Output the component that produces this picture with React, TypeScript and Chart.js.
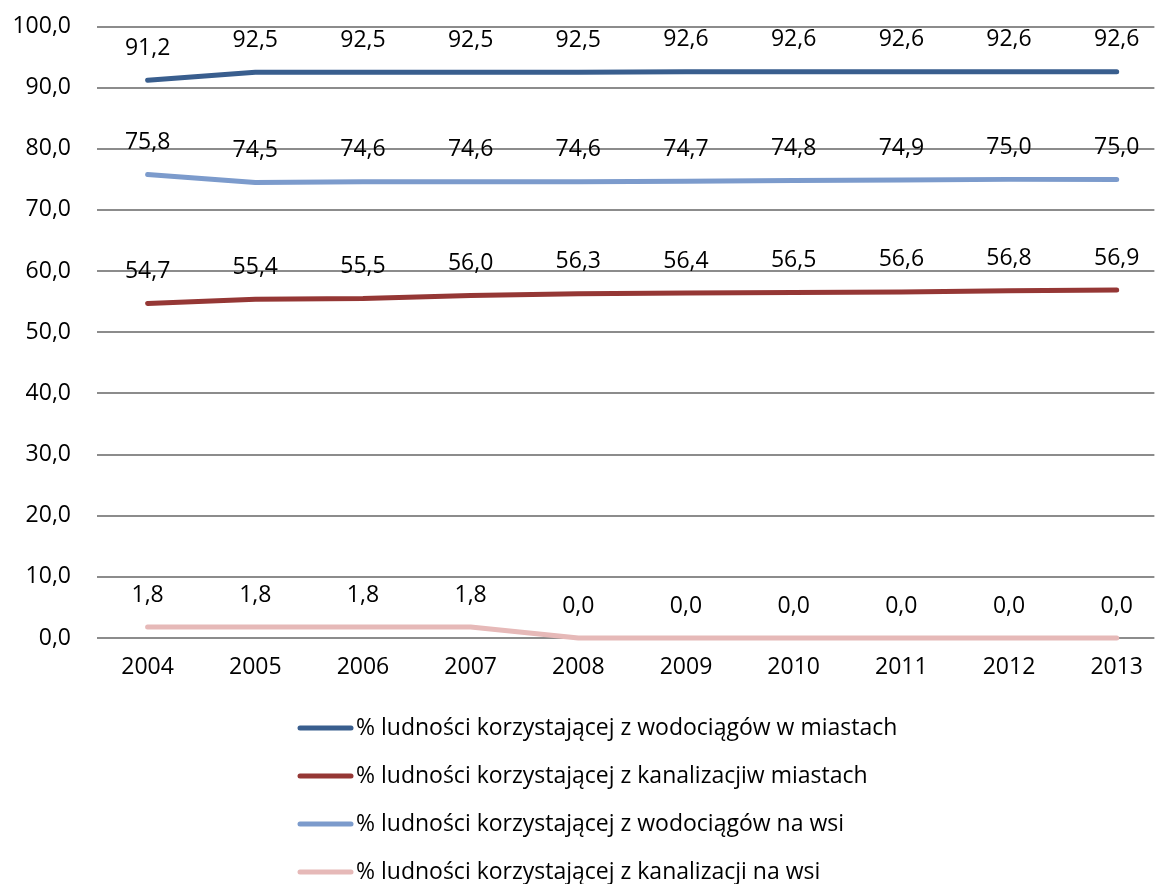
import React, { useEffect, useRef } from "react";
import { Chart, registerables } from "chart.js";

Chart.register(...registerables);

const years = [2004, 2005, 2006, 2007, 2008, 2009, 2010, 2011, 2012, 2013];
const wodMiasta = [91.2, 92.5, 92.5, 92.5, 92.5, 92.6, 92.6, 92.6, 92.6, 92.6];
const kanMiasta = [54.7, 55.4, 55.5, 56.0, 56.3, 56.4, 56.5, 56.6, 56.8, 56.9];
const wodWies = [75.8, 74.5, 74.6, 74.6, 74.6, 74.7, 74.8, 74.9, 75.0, 75.0];
const kanWies = [1.8, 1.8, 1.8, 1.8, 0.0, 0.0, 0.0, 0.0, 0.0, 0.0];
const seriesNames = [
  "% ludności korzystającej z wodociągów w miastach",
  "% ludności korzystającej z kanalizacjiw miastach",
  "% ludności korzystającej z wodociągów na wsi",
  "% ludności korzystającej z kanalizacji na wsi",
];
const seriesColors = ["#395E8E", "#953735", "#7C9BCC", "#E6B9B8"];
const yTicks = [0, 10, 20, 30, 40, 50, 60, 70, 80, 90, 100];

const FONT = "'Open Sans', 'Noto Sans', sans-serif";
const FS = 23;

const fmt = (v: number) => v.toFixed(1).replace(".", ",");

const dataLabelPlugin = {
  id: "dataLabels",
  afterDatasetsDraw(chart: any) {
    const ctx = chart.ctx;
    ctx.save();
    ctx.font = `${FS}px ${FONT}`;
    ctx.fillStyle = "#000";
    ctx.textAlign = "center";
    ctx.textBaseline = "middle";
    chart.data.datasets.forEach((ds: any, i: number) => {
      const meta = chart.getDatasetMeta(i);
      meta.data.forEach((pt: any, j: number) => {
        ctx.fillText(fmt(ds.data[j].y), pt.x, pt.y - 32);
      });
    });
    ctx.restore();
  },
};

const legendPlugin = {
  id: "vertLegend",
  afterDraw(chart: any) {
    const ctx = chart.ctx;
    ctx.save();
    ctx.font = `${FS}px ${FONT}`;
    ctx.textAlign = "left";
    ctx.textBaseline = "middle";
    const x0 = 300;
    const x1 = 351;
    const baseY = chart.chartArea.bottom + 90;
    chart.data.datasets.forEach((ds: any, i: number) => {
      const y = baseY + i * 48;
      ctx.strokeStyle = ds.borderColor;
      ctx.lineWidth = 5;
      ctx.lineCap = "round";
      ctx.beginPath();
      ctx.moveTo(x0, y);
      ctx.lineTo(x1, y);
      ctx.stroke();
      ctx.fillStyle = "#000";
      ctx.fillText(ds.label, 356, y);
    });
    ctx.restore();
  },
};

export default function App() {
  const ref = useRef<HTMLCanvasElement>(null);
  useEffect(() => {
    if (!ref.current) return;
    const all = [wodMiasta, kanMiasta, wodWies, kanWies];
    const chart = new Chart(ref.current, {
      type: "line",
      data: {
        datasets: all.map((arr, i) => ({
          label: seriesNames[i],
          data: arr.map((v, j) => ({ x: years[j], y: v })),
          borderColor: seriesColors[i],
          backgroundColor: seriesColors[i],
          borderWidth: 5,
          borderCapStyle: "round",
          borderJoinStyle: "round",
          pointRadius: 0,
          tension: 0,
          clip: false,
        })),
      },
      options: {
        animation: false,
        responsive: false,
        maintainAspectRatio: false,
        layout: { padding: { top: 0, right: 0, left: 0, bottom: 0 } },
        plugins: {
          legend: { display: false },
          tooltip: { enabled: false },
        },
        scales: {
          x: {
            type: "linear",
            min: 2003.53,
            max: 2013.35,
            border: { display: false },
            grid: { display: false, drawTicks: false },
            afterBuildTicks: (s: any) => {
              s.ticks = years.map((y) => ({ value: y }));
            },
            afterFit: (s: any) => {
              s.height = 246;
            },
            ticks: {
              padding: 16,
              autoSkip: false,
              maxRotation: 0,
              color: "#000",
              font: { family: FONT, size: FS },
              callback: (v: any) => String(v),
            },
          },
          y: {
            min: 0,
            max: 100,
            border: { display: false },
            grid: { color: "#8C8C8C", lineWidth: 2, drawTicks: false },
            afterBuildTicks: (s: any) => {
              s.ticks = yTicks.map((v) => ({ value: v }));
            },
            afterFit: (s: any) => {
              s.width = 97;
              s.paddingTop = 26.5;
              s.paddingBottom = 0;
            },
            ticks: {
              padding: 26,
              color: "#000",
              font: { family: FONT, size: FS },
              callback: (v: any) => fmt(Number(v)),
            },
          },
        },
      },
      plugins: [dataLabelPlugin, legendPlugin],
    } as any);
    return () => chart.destroy();
  }, []);
  return (
    <div style={{ position: "fixed", left: 0, top: 0, width: 1159, height: 884, background: "#fff" }}>
      <canvas ref={ref} width={1159} height={884} style={{ width: 1159, height: 884 }} />
    </div>
  );
}
